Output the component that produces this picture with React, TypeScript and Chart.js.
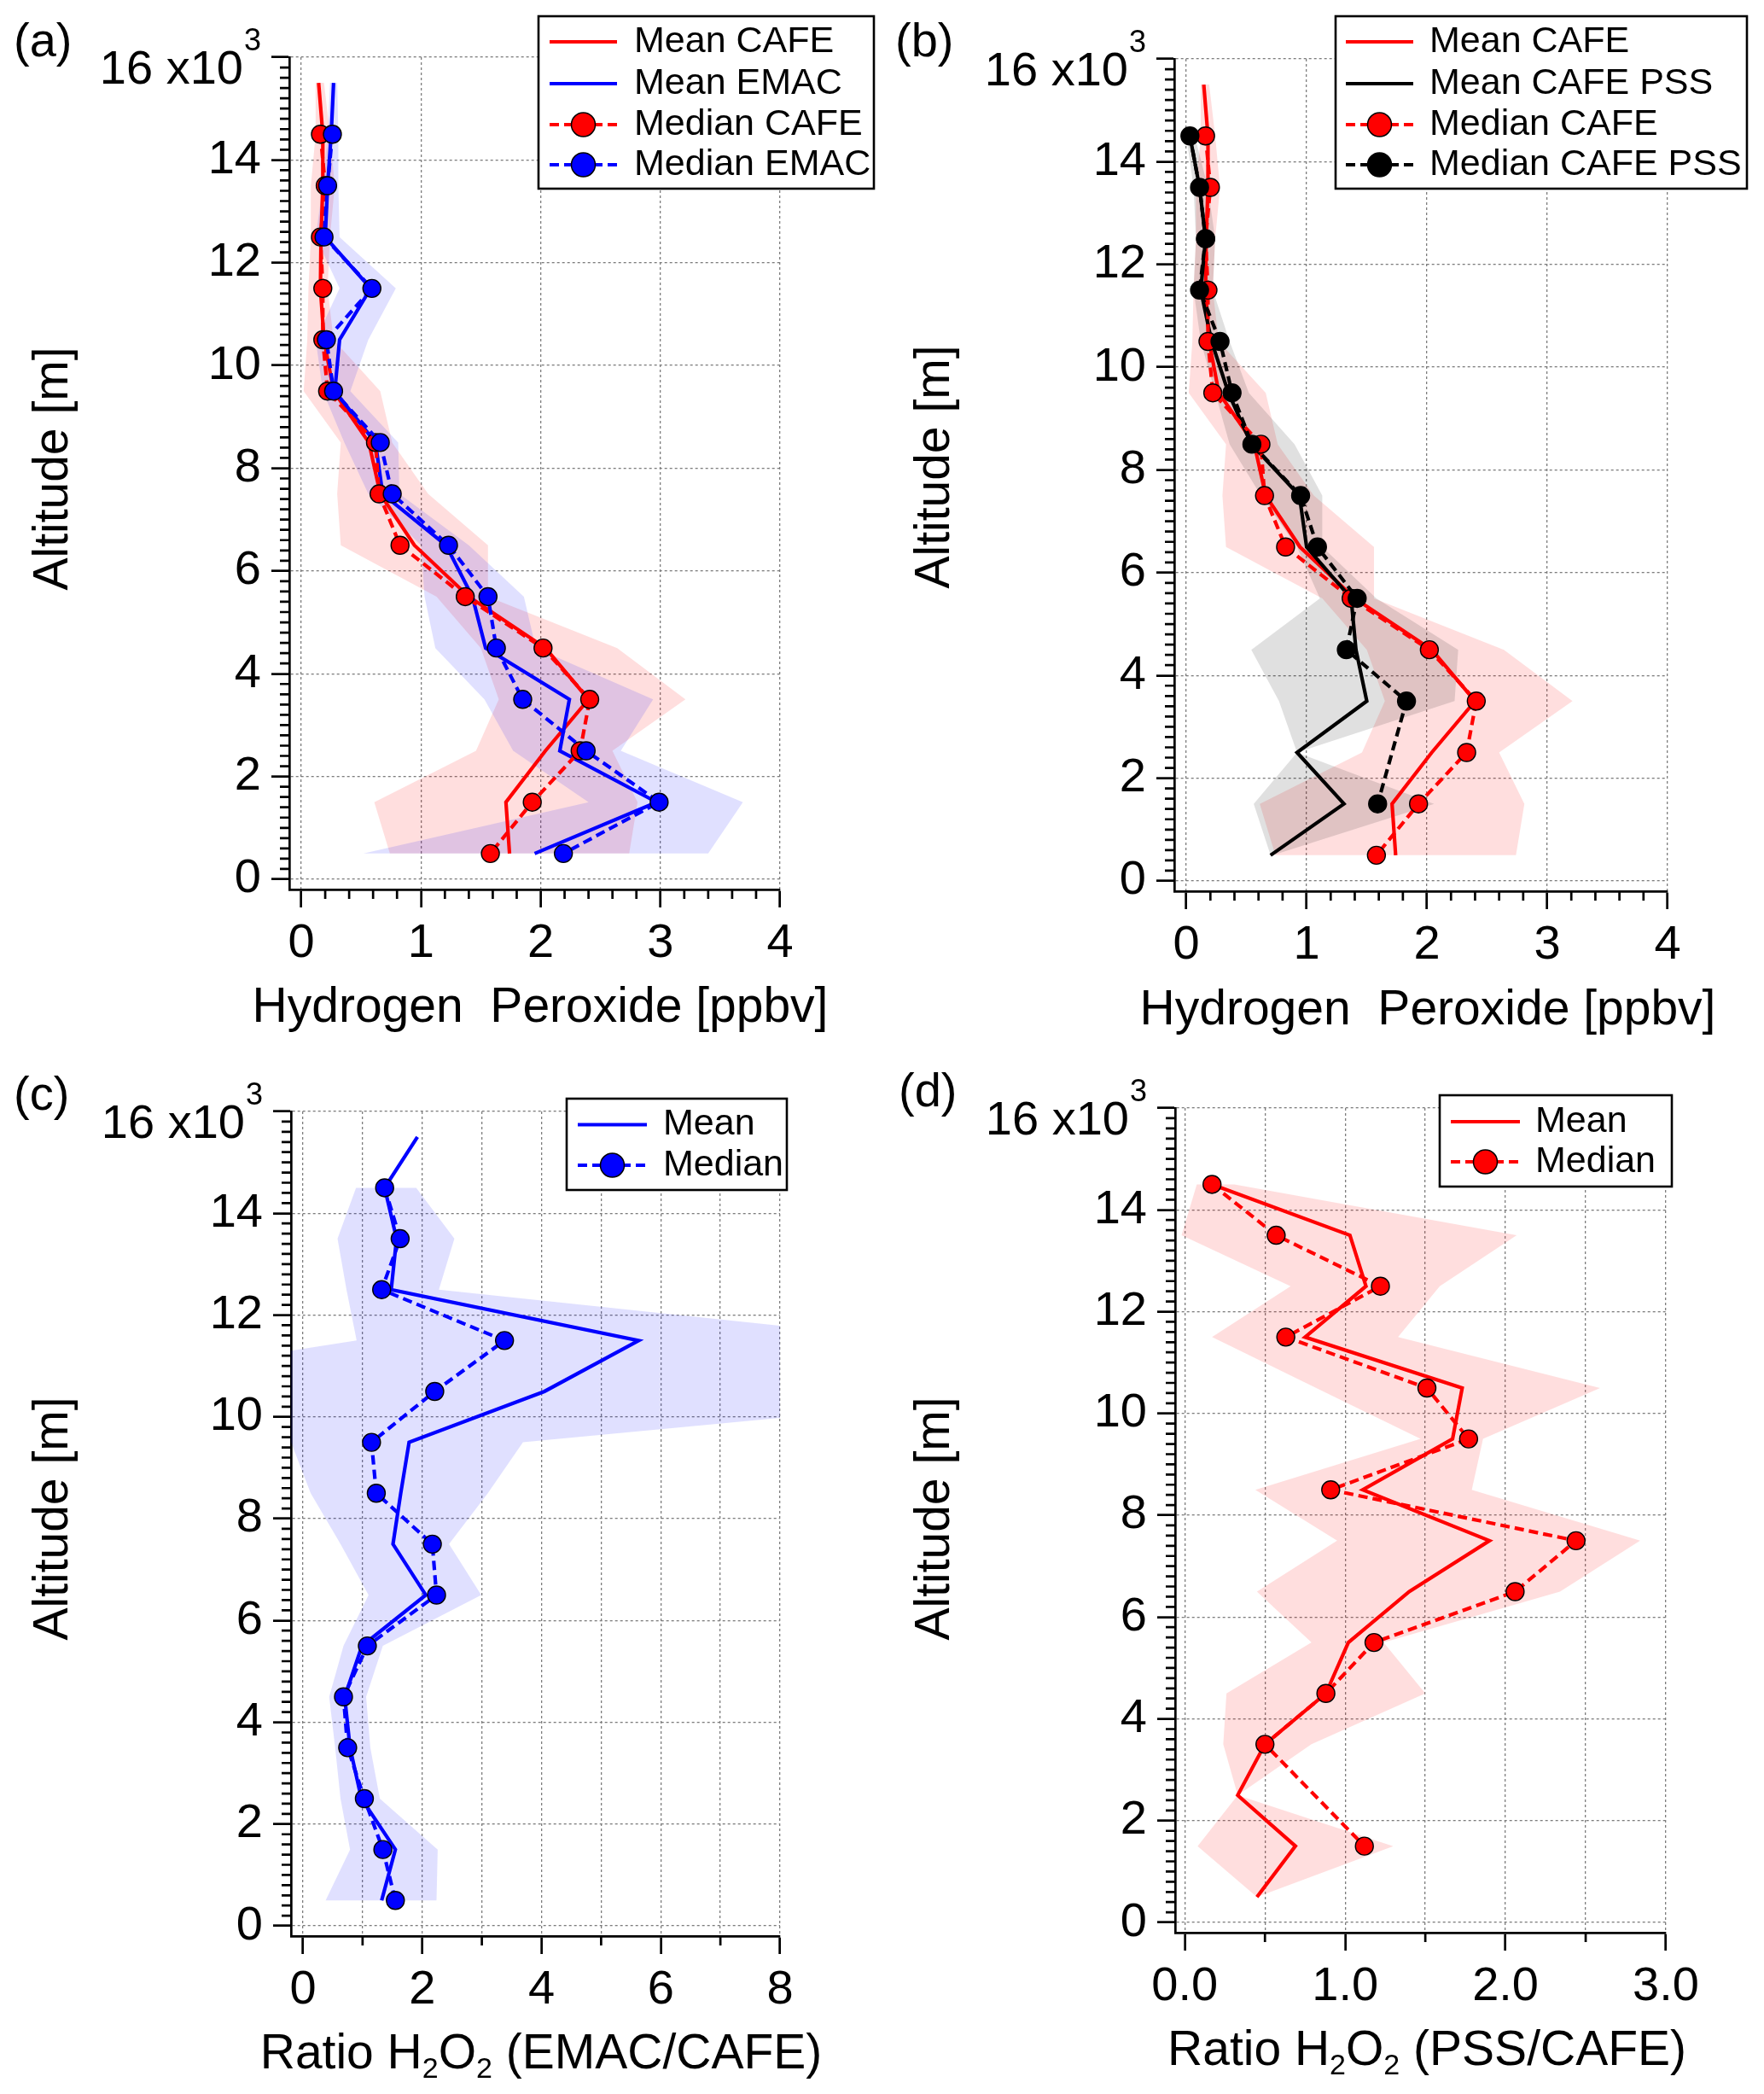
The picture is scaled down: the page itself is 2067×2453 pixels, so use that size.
import React, { useEffect, useRef } from "react";
import { Chart, registerables } from "chart.js";

Chart.register(...registerables);

const FONT = '"Liberation Sans", Arial, Helvetica, sans-serif';

// ---------------- data (altitude in 10^3 m) ----------------
const ALT_MEAN = [15.5, 14.5, 13.5, 12.5, 11.5, 10.5, 9.5, 8.5, 7.5, 6.5, 5.5, 4.5, 3.5, 2.5, 1.5, 0.5];
const ALT = [14.5, 13.5, 12.5, 11.5, 10.5, 9.5, 8.5, 7.5, 6.5, 5.5, 4.5, 3.5, 2.5, 1.5, 0.5];

// H2O2 [ppbv] – CAFE observations
const CAFE_MEAN = [0.145, 0.18, 0.18, 0.165, 0.16, 0.19, 0.27, 0.565, 0.66, 0.945, 1.4, 2.04, 2.4, 2.04, 1.71, 1.74];
const CAFE_MEDIAN = [0.16, 0.2, 0.16, 0.18, 0.18, 0.22, 0.62, 0.65, 0.825, 1.37, 2.02, 2.41, 2.33, 1.93, 1.58];
const CAFE_LOW = [0.12, 0.12, 0.08, 0.08, 0.06, 0.05, 0.02, 0.33, 0.3, 0.33, 1.13, 1.5, 1.65, 1.46, 0.61, 0.74];
const CAFE_HIGH = [0.19, 0.24, 0.28, 0.24, 0.22, 0.27, 0.66, 0.76, 1.06, 1.56, 1.56, 2.64, 3.21, 2.6, 2.81, 2.74];

// H2O2 [ppbv] – EMAC model
const EMAC_MEAN = [0.27, 0.25, 0.22, 0.2, 0.58, 0.32, 0.28, 0.62, 0.68, 1.21, 1.43, 1.54, 2.24, 2.16, 2.97, 1.95];
const EMAC_MEDIAN = [0.26, 0.22, 0.19, 0.59, 0.21, 0.27, 0.66, 0.76, 1.23, 1.56, 1.63, 1.85, 2.38, 2.99, 2.19];
const EMAC_LOW = [0.24, 0.22, 0.18, 0.12, 0.32, 0.12, 0.18, 0.36, 0.56, 1.0, 1.03, 1.12, 1.53, 1.77, 2.4, 0.52];
const EMAC_HIGH = [0.3, 0.31, 0.31, 0.32, 0.79, 0.56, 0.41, 0.81, 0.82, 1.4, 1.86, 1.96, 2.94, 2.67, 3.69, 3.4];

// H2O2 [ppbv] – CAFE PSS
const PSS_MEAN = [0.03, 0.11, 0.16, 0.12, 0.21, 0.35, 0.54, 0.94, 1.0, 1.37, 1.41, 1.5, 0.92, 1.31, 0.7];
const PSS_MEDIAN = [0.03, 0.11, 0.16, 0.11, 0.28, 0.38, 0.545, 0.95, 1.09, 1.42, 1.33, 1.83, null, 1.59, null];
const PSS_LOW = [0.0, 0.06, 0.08, 0.06, 0.12, 0.24, 0.36, 0.62, 0.92, 1.11, 0.54, 0.77, 0.92, 0.56, 0.7];
const PSS_HIGH = [0.07, 0.18, 0.24, 0.22, 0.36, 0.52, 0.9, 1.13, 1.13, 1.58, 2.26, 2.23, 0.92, 2.06, 0.72];

// Ratio EMAC/CAFE
const RATIO_EC_MEAN = [1.92, 1.37, 1.57, 1.48, 5.63, 4.05, 1.78, 1.64, 1.51, 2.06, 0.99, 0.7, 0.79, 0.98, 1.55, 1.32];
const RATIO_EC_MEDIAN = [1.37, 1.63, 1.32, 3.38, 2.21, 1.15, 1.23, 2.17, 2.24, 1.08, 0.68, 0.75, 1.03, 1.34, 1.55];
const RATIO_EC_LOW = [0.89, 0.58, 0.73, 0.9, -4.6, -0.2, 0.13, 0.63, 1.1, 0.68, 0.44, 0.54, 0.63, 0.79, 0.38];
const RATIO_EC_HIGH = [1.9, 2.54, 2.28, 10.36, 12.7, 3.69, 3.1, 2.45, 2.99, 1.34, 1.06, 1.13, 1.29, 2.26, 2.24];

// Ratio PSS/CAFE
const RATIO_PC_MEAN = [0.17, 1.03, 1.13, 0.75, 1.73, 1.67, 1.11, 1.9, 1.4, 1.02, 0.88, 0.5, 0.33, 0.69, 0.45];
const RATIO_PC_MEDIAN = [0.17, 0.57, 1.22, 0.63, 1.51, 1.77, 0.91, 2.44, 2.06, 1.18, 0.88, 0.5, null, 1.12, null];
const RATIO_PC_LOW = [0.075, -0.02, 0.66, 0.17, 0.82, 1.47, 0.44, 0.95, 0.45, 0.79, 0.26, 0.24, 0.33, 0.08, 0.45];
const RATIO_PC_HIGH = [0.31, 2.07, 1.59, 1.33, 2.59, 1.86, 1.79, 2.84, 2.34, 1.24, 1.5, 0.79, 0.33, 1.3, 0.45];

// tick values
const Y_TICKS = [0, 2, 4, 6, 8, 10, 12, 14, 16];
const X_TICKS_H2O2 = [0, 1, 2, 3, 4];
const X_TICKS_EC = [0, 1, 2, 3, 4, 5, 6, 7, 8];
const X_LABELS_EC = [0, 2, 4, 6, 8];
const X_TICKS_PC = [0, 0.5, 1, 1.5, 2, 2.5, 3];
const X_LABELS_PC = [0, 1, 2, 3];

// ---------------- helpers ----------------
type Pt = { x: number; y: number };
function profile(xs: (number | null)[], ys: number[]): Pt[] {
  const out: Pt[] = [];
  xs.forEach((x, i) => {
    if (x !== null && x !== undefined) out.push({ x, y: ys[i] });
  });
  return out;
}
function bandPts(lo: number[], hi: number[], ys: number[]): Pt[] {
  return [...profile(lo, ys), ...profile(hi, ys).reverse()];
}

const RED = "#ff0000";
const BLUE = "#0000ff";
const BLACK = "#000000";
const LINE_W = 4.2;

function bandDs(label: string, lo: number[], hi: number[], ys: number[], color: string, order: number) {
  return {
    label,
    data: bandPts(lo, hi, ys),
    borderColor: "rgba(0,0,0,0)",
    borderWidth: 0,
    pointRadius: 0,
    backgroundColor: color,
    fill: "shape",
    tension: 0,
    order,
  };
}
function meanDs(label: string, xs: (number | null)[], ys: number[], color: string, order: number) {
  return {
    label,
    data: profile(xs, ys),
    borderColor: color,
    backgroundColor: color,
    borderWidth: LINE_W,
    pointRadius: 0,
    fill: false,
    tension: 0,
    order,
  };
}
function medianDs(label: string, xs: (number | null)[], ys: number[], color: string, order: number) {
  return {
    label,
    data: profile(xs, ys),
    borderColor: color,
    backgroundColor: color,
    borderWidth: LINE_W,
    borderDash: [11, 6],
    pointRadius: 10.5,
    pointBackgroundColor: color,
    pointBorderColor: "#000",
    pointBorderWidth: 1.4,
    fill: false,
    tension: 0,
    order,
  };
}

type Part = { t: string; sub?: boolean };
interface PanelSpec {
  key: string;
  left: number;
  top: number;
  w: number;
  h: number;
  area: { l: number; t: number; r: number; b: number };
  xMin: number;
  xMax: number;
  xTicks: number[];
  xLabels: number[];
  xFmt: (v: number) => string;
  xMinorStep: number;
  xMajorStep: number;
  datasets: any[];
  legend: { x1: number; y1: number; x2: number; y2: number; rowY: number[]; s1: number; s2: number; tx: number; rows: number[] };
  panelLabel: { text: string; x: number; y: number };
  yTitle: { x: number; cy: number };
  xTitle: { parts: Part[]; cx: number; base: number };
}

const PANELS: PanelSpec[] = [
  {
    key: "a",
    left: 0,
    top: 0,
    w: 1033,
    h: 1226,
    area: { l: 339, t: 67, r: 914, b: 1042 },
    xMin: -0.1,
    xMax: 4,
    xTicks: X_TICKS_H2O2,
    xLabels: X_TICKS_H2O2,
    xFmt: (v) => String(v),
    xMinorStep: 0.2,
    xMajorStep: 1,
    datasets: [
      bandDs("CAFE range", CAFE_LOW, CAFE_HIGH, ALT_MEAN, "rgba(255,0,0,0.13)", 11),
      bandDs("EMAC range", EMAC_LOW, EMAC_HIGH, ALT_MEAN, "rgba(0,0,255,0.12)", 10),
      meanDs("Mean CAFE", CAFE_MEAN, ALT_MEAN, RED, 4),
      meanDs("Mean EMAC", EMAC_MEAN, ALT_MEAN, BLUE, 3),
      medianDs("Median CAFE", CAFE_MEDIAN, ALT, RED, 2),
      medianDs("Median EMAC", EMAC_MEDIAN, ALT, BLUE, 1),
    ],
    legend: { x1: 631, y1: 19, x2: 1024, y2: 221, rowY: [49, 98, 146, 193], s1: 644, s2: 723, tx: 743, rows: [2, 3, 4, 5] },
    panelLabel: { text: "(a)", x: 16, y: 66 },
    yTitle: { x: 79, cy: 549 },
    xTitle: { parts: [{ t: "Hydrogen  Peroxide [ppbv]" }], cx: 633, base: 1197 },
  },
  {
    key: "b",
    left: 1033,
    top: 0,
    w: 1034,
    h: 1226,
    area: { l: 343, t: 69, r: 921, b: 1044 },
    xMin: -0.1,
    xMax: 4,
    xTicks: X_TICKS_H2O2,
    xLabels: X_TICKS_H2O2,
    xFmt: (v) => String(v),
    xMinorStep: 0.2,
    xMajorStep: 1,
    datasets: [
      bandDs("CAFE range", CAFE_LOW, CAFE_HIGH, ALT_MEAN, "rgba(255,0,0,0.13)", 11),
      bandDs("CAFE PSS range", PSS_LOW, PSS_HIGH, ALT, "rgba(0,0,0,0.12)", 10),
      meanDs("Mean CAFE", CAFE_MEAN, ALT_MEAN, RED, 4),
      meanDs("Mean CAFE PSS", PSS_MEAN, ALT, BLACK, 3),
      medianDs("Median CAFE", CAFE_MEDIAN, ALT, RED, 2),
      medianDs("Median CAFE PSS", PSS_MEDIAN, ALT, BLACK, 1),
    ],
    legend: { x1: 532, y1: 19, x2: 1014, y2: 221, rowY: [49, 98, 146, 193], s1: 544, s2: 623, tx: 642, rows: [2, 3, 4, 5] },
    panelLabel: { text: "(b)", x: 16, y: 66 },
    yTitle: { x: 79, cy: 547 },
    xTitle: { parts: [{ t: "Hydrogen  Peroxide [ppbv]" }], cx: 640, base: 1200 },
  },
  {
    key: "c",
    left: 0,
    top: 1226,
    w: 1033,
    h: 1227,
    area: { l: 341, t: 76, r: 914, b: 1042 },
    xMin: -0.2,
    xMax: 8,
    xTicks: X_TICKS_EC,
    xLabels: X_LABELS_EC,
    xFmt: (v) => String(v),
    xMinorStep: 1,
    xMajorStep: 2,
    datasets: [
      bandDs("Ratio range", RATIO_EC_LOW, RATIO_EC_HIGH, ALT, "rgba(0,0,255,0.12)", 10),
      meanDs("Mean", RATIO_EC_MEAN, ALT_MEAN, BLUE, 2),
      medianDs("Median", RATIO_EC_MEDIAN, ALT, BLUE, 1),
    ],
    legend: { x1: 664, y1: 61, x2: 922, y2: 168, rowY: [91.5, 139], s1: 677, s2: 758, tx: 777, rows: [1, 2] },
    panelLabel: { text: "(c)", x: 16, y: 74 },
    yTitle: { x: 79, cy: 553 },
    xTitle: {
      parts: [{ t: "Ratio H" }, { t: "2", sub: true }, { t: "O" }, { t: "2", sub: true }, { t: " (EMAC/CAFE)" }],
      cx: 634,
      base: 1197,
    },
  },
  {
    key: "d",
    left: 1033,
    top: 1226,
    w: 1034,
    h: 1227,
    area: { l: 344, t: 72, r: 919, b: 1038 },
    xMin: -0.06,
    xMax: 3,
    xTicks: X_TICKS_PC,
    xLabels: X_LABELS_PC,
    xFmt: (v) => v.toFixed(1),
    xMinorStep: 0.5,
    xMajorStep: 1,
    datasets: [
      bandDs("Ratio range", RATIO_PC_LOW, RATIO_PC_HIGH, ALT, "rgba(255,0,0,0.13)", 10),
      meanDs("Mean", RATIO_PC_MEAN, ALT, RED, 2),
      medianDs("Median", RATIO_PC_MEDIAN, ALT, RED, 1),
    ],
    legend: { x1: 654, y1: 57, x2: 926, y2: 164, rowY: [88, 135], s1: 667, s2: 748, tx: 766, rows: [1, 2] },
    panelLabel: { text: "(d)", x: 20, y: 70 },
    yTitle: { x: 79, cy: 553 },
    xTitle: {
      parts: [{ t: "Ratio H" }, { t: "2", sub: true }, { t: "O" }, { t: "2", sub: true }, { t: " (PSS/CAFE)" }],
      cx: 639,
      base: 1193,
    },
  },
];

const TICK_FONT = 56;
const TITLE_FONT = 57;
const LEGEND_FONT = 43;

function isMultiple(v: number, step: number) {
  return Math.abs(v / step - Math.round(v / step)) < 1e-6;
}

function drawRich(ctx: CanvasRenderingContext2D, parts: Part[], cx: number, base: number, size: number) {
  const main = `${size}px ${FONT}`;
  const sub = `${Math.round(size * 0.6)}px ${FONT}`;
  let total = 0;
  const widths = parts.map((p) => {
    ctx.font = p.sub ? sub : main;
    const w = ctx.measureText(p.t).width;
    total += w;
    return w;
  });
  let x = cx - total / 2;
  ctx.textAlign = "left";
  ctx.textBaseline = "alphabetic";
  parts.forEach((p, i) => {
    ctx.font = p.sub ? sub : main;
    ctx.fillText(p.t, x, p.sub ? base + size * 0.2 : base);
    x += widths[i];
  });
}

function drawDecor(chart: any, spec: PanelSpec) {
  const ctx: CanvasRenderingContext2D = chart.ctx;
  const area = chart.chartArea;
  const xs = chart.scales.x;
  const ys = chart.scales.y;
  ctx.save();
  ctx.setLineDash([]);
  ctx.strokeStyle = "#000";
  ctx.lineWidth = 2.7;
  ctx.lineCap = "butt";

  // minor ticks on x
  ctx.beginPath();
  for (let k = 0; ; k++) {
    const v = k * spec.xMinorStep;
    if (v > spec.xMax + 1e-9) break;
    if (isMultiple(v, spec.xMajorStep)) continue;
    const px = xs.getPixelForValue(v);
    ctx.moveTo(px, area.bottom);
    ctx.lineTo(px, area.bottom + 11);
  }
  // minor ticks on y
  for (let k = 0; ; k++) {
    const v = k * 0.2;
    if (v > 16 + 1e-9) break;
    if (isMultiple(v, 2)) continue;
    const py = ys.getPixelForValue(v);
    ctx.moveTo(area.left, py);
    ctx.lineTo(area.left - 11, py);
  }
  ctx.stroke();

  ctx.fillStyle = "#000";
  // "16 x10^3" top tick label
  const y16 = ys.getPixelForValue(16);
  const right = area.left - 33;
  ctx.font = `36px ${FONT}`;
  const supW = ctx.measureText("3").width;
  ctx.textAlign = "right";
  ctx.textBaseline = "alphabetic";
  ctx.fillText("3", right, y16 - 8);
  ctx.font = `${TICK_FONT}px ${FONT}`;
  ctx.fillText("16 x10", right - supW - 1, y16 + 31);

  // panel label
  ctx.font = `56px ${FONT}`;
  ctx.textAlign = "left";
  ctx.fillText(spec.panelLabel.text, spec.panelLabel.x, spec.panelLabel.y);

  // y title
  ctx.save();
  ctx.translate(spec.yTitle.x, spec.yTitle.cy);
  ctx.rotate(-Math.PI / 2);
  ctx.font = `${TITLE_FONT}px ${FONT}`;
  ctx.textAlign = "center";
  ctx.textBaseline = "alphabetic";
  ctx.fillText("Altitude [m]", 0, 0);
  ctx.restore();

  // x title
  drawRich(ctx, spec.xTitle.parts, spec.xTitle.cx, spec.xTitle.base, TITLE_FONT);

  // legend
  const L = spec.legend;
  ctx.fillStyle = "#fff";
  ctx.fillRect(L.x1, L.y1, L.x2 - L.x1, L.y2 - L.y1);
  ctx.strokeStyle = "#000";
  ctx.lineWidth = 2.6;
  ctx.strokeRect(L.x1, L.y1, L.x2 - L.x1, L.y2 - L.y1);
  L.rows.forEach((dsIndex, i) => {
    const ds = chart.data.datasets[dsIndex];
    const y = L.rowY[i];
    ctx.strokeStyle = ds.borderColor;
    ctx.lineWidth = ds.borderWidth;
    ctx.setLineDash(ds.borderDash || []);
    ctx.beginPath();
    ctx.moveTo(L.s1, y);
    ctx.lineTo(L.s2, y);
    ctx.stroke();
    ctx.setLineDash([]);
    if (ds.pointRadius > 0) {
      ctx.beginPath();
      ctx.arc((L.s1 + L.s2) / 2, y, 14, 0, Math.PI * 2);
      ctx.fillStyle = ds.pointBackgroundColor;
      ctx.fill();
      ctx.lineWidth = 1.5;
      ctx.strokeStyle = "#000";
      ctx.stroke();
    }
    ctx.fillStyle = "#000";
    ctx.font = `${LEGEND_FONT}px ${FONT}`;
    ctx.textAlign = "left";
    ctx.textBaseline = "middle";
    ctx.fillText(ds.label, L.tx, y);
  });
  ctx.restore();
}

function makeConfig(spec: PanelSpec): any {
  const xLabelSet = new Set(spec.xLabels.map((v) => v.toFixed(3)));
  const hasLabel = (v: number) => xLabelSet.has(Number(v).toFixed(3));
  const gridCommon = {
    color: "#7d7d7d",
    lineWidth: 1.3,
    drawTicks: true,
    tickLength: 21,
    tickWidth: 2.7,
  };
  const border = { display: true, color: "#000", width: 2.7, dash: [3, 3] };
  return {
    type: "line",
    data: { datasets: spec.datasets },
    options: {
      animation: false,
      responsive: false,
      devicePixelRatio: 1,
      events: [],
      indexAxis: "y",
      layout: { padding: { left: 0, top: spec.area.t, right: spec.w - spec.area.r, bottom: 0 } },
      plugins: {
        legend: { display: false },
        tooltip: { enabled: false },
        filler: { propagate: false },
      },
      scales: {
        x: {
          type: "linear",
          position: "bottom",
          min: spec.xMin,
          max: spec.xMax,
          afterBuildTicks: (s: any) => {
            s.ticks = spec.xTicks.map((v) => ({ value: v }));
          },
          afterFit: (s: any) => {
            s.height = spec.h - spec.area.b;
          },
          ticks: {
            autoSkip: false,
            maxRotation: 0,
            minRotation: 0,
            padding: 9,
            color: "#000",
            font: { size: TICK_FONT, family: FONT },
            callback: (v: any) => (hasLabel(Number(v)) ? spec.xFmt(Number(v)) : ""),
          },
          grid: {
            ...gridCommon,
            tickColor: (c: any) => (c.tick && hasLabel(c.tick.value) ? "#000" : "rgba(0,0,0,0)"),
          },
          border,
        },
        y: {
          type: "linear",
          position: "left",
          min: -0.2,
          max: 16,
          afterBuildTicks: (s: any) => {
            s.ticks = Y_TICKS.map((v) => ({ value: v }));
          },
          afterFit: (s: any) => {
            s.width = spec.area.l;
          },
          ticks: {
            autoSkip: false,
            padding: 12,
            color: "#000",
            font: { size: TICK_FONT, family: FONT },
            callback: (v: any) => (Number(v) === 16 ? "" : String(v)),
          },
          grid: { ...gridCommon, tickColor: "#000" },
          border,
        },
      },
    },
    plugins: [
      {
        id: "decor_" + spec.key,
        afterDraw: (chart: any) => drawDecor(chart, spec),
      },
    ],
  };
}

function Panel({ spec }: { spec: PanelSpec }) {
  const ref = useRef<HTMLCanvasElement | null>(null);
  useEffect(() => {
    if (!ref.current) return;
    const chart = new Chart(ref.current, makeConfig(spec));
    return () => chart.destroy();
  }, [spec]);
  return (
    <canvas
      ref={ref}
      width={spec.w}
      height={spec.h}
      style={{ position: "absolute", left: spec.left, top: spec.top, width: spec.w, height: spec.h }}
    />
  );
}

export default function App() {
  Chart.defaults.font.family = FONT;
  Chart.defaults.color = "#000";
  return (
    <div style={{ position: "absolute", left: 0, top: 0, width: 2067, height: 2453, background: "#fff" }}>
      {PANELS.map((p) => (
        <Panel key={p.key} spec={p} />
      ))}
    </div>
  );
}
